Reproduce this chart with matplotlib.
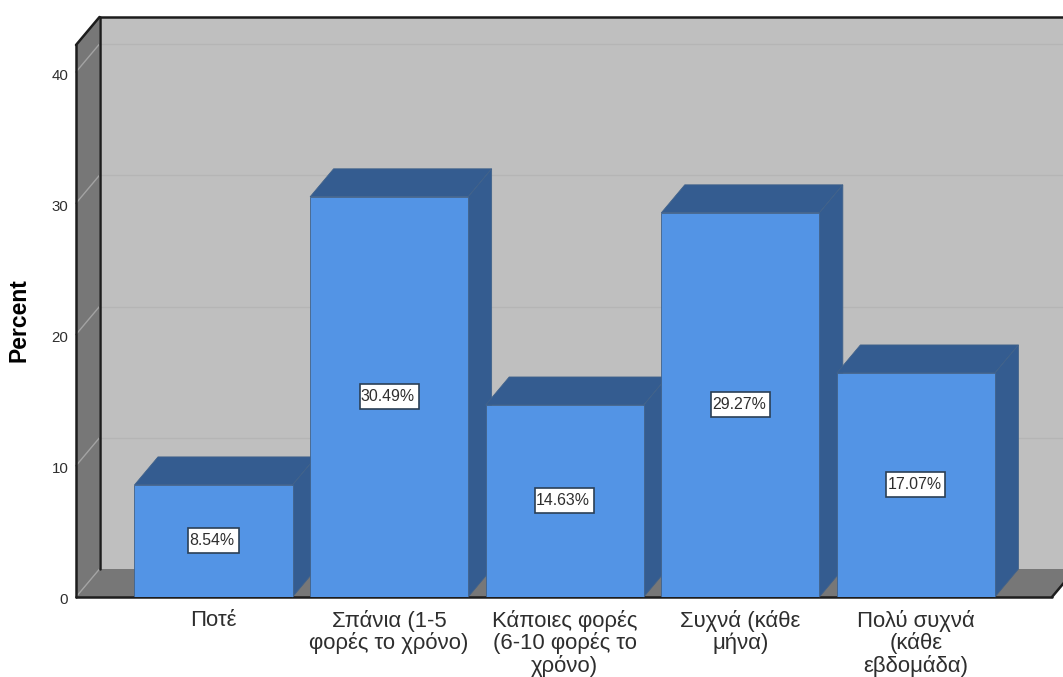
import matplotlib
matplotlib.use('Agg')
import matplotlib.pyplot as plt
from matplotlib.patches import Polygon, Rectangle
from matplotlib.transforms import ScaledTranslation

plt.rcParams['font.family'] = ['Liberation Sans', 'DejaVu Sans']

# Data
categories = ['Ποτέ', 'Σπάνια (1-5\nφορές το χρόνο)', 'Κάποιες φορές\n(6-10 φορές το\nχρόνο)',
              'Συχνά (κάθε\nμήνα)', 'Πολύ συχνά\n(κάθε\nεβδομάδα)']
percents = [8.54, 30.49, 14.63, 29.27, 17.07]
y_ticks = [0, 10, 20, 30, 40]

# Colors
FRONT = '#5394e5'
SHADE = '#345c90'
BAR_EDGE = '#41628a'
WALL = '#bfbfbf'
SIDE_WALL = '#777777'
GRID = '#b5b5b5'
SIDE_GRID = '#a3a3a3'
FRAME = '#1d1d1d'
TEXT = '#2e2e2e'

WIDTH, HEIGHT = 1063, 677
# pixel frame of the front of the plot box
LEFT, RIGHT, TOP, BOTTOM = 76, 1052, 45, 597
PX_PER_CAT = 175.6
PX_PER_PCT = 13.125
BAR_WIDTH = 0.9

fig = plt.figure(figsize=(WIDTH / 100, HEIGHT / 100), dpi=100)
ax = fig.add_axes([LEFT / WIDTH, 1 - BOTTOM / HEIGHT, (RIGHT - LEFT) / WIDTH, (BOTTOM - TOP) / HEIGHT])
ax.patch.set_visible(False)
for spine in ax.spines.values():
    spine.set_visible(False)

xmin = -(213.5 - LEFT) / PX_PER_CAT
xmax = xmin + (RIGHT - LEFT) / PX_PER_CAT
ymax = (BOTTOM - TOP) / PX_PER_PCT
ax.set_xlim(xmin, xmax)
ax.set_ylim(0, ymax)

# oblique depth of the box in data units
dx = 23.5 / PX_PER_CAT
dy = 28 / PX_PER_PCT


def face(points, color, edge='none', lw=0, z=1):
    ax.add_patch(Polygon(points, closed=True, facecolor=color, edgecolor=edge, linewidth=lw,
                         zorder=z, clip_on=False))


# back wall, left wall and floor
face([(xmin + dx, dy), (xmax + dx, dy), (xmax + dx, ymax + dy), (xmin + dx, ymax + dy)], WALL)
face([(xmin, 0), (xmin + dx, dy), (xmin + dx, ymax + dy), (xmin, ymax)], SIDE_WALL)
face([(xmin, 0), (xmax, 0), (xmax + dx, dy), (xmin + dx, dy)], SIDE_WALL)

# grid lines run across the left wall and along the back wall
for t in y_ticks[1:]:
    ax.plot([xmin, xmin + dx], [t, t + dy], color=SIDE_GRID, lw=1, zorder=2, clip_on=False)
    ax.plot([xmin + dx, xmax + dx], [t + dy, t + dy], color=GRID, lw=1, zorder=2, clip_on=False)
ax.plot([xmin, xmin + dx], [0, dy], color=SIDE_GRID, lw=1, zorder=2, clip_on=False)

# box outline
outline = dict(color=FRAME, lw=1.8, zorder=3, clip_on=False, solid_capstyle='round')
ax.plot([xmin, xmin], [0, ymax], **outline)
ax.plot([xmin + dx, xmin + dx], [dy, ymax + dy], **outline)
ax.plot([xmin, xmin + dx], [ymax, ymax + dy], **outline)
ax.plot([xmin + dx, xmax + dx], [ymax + dy, ymax + dy], **outline)
ax.plot([xmin, xmax], [0, 0], **outline)
ax.plot([xmax, xmax + dx], [0, dy], **outline)

renderer = fig.canvas.get_renderer()

# bars, left to right so each one covers the side of the previous
half = BAR_WIDTH / 2
for i, val in enumerate(percents):
    z = 4 + i
    face([(i - half, val), (i + half, val), (i + half + dx, val + dy), (i - half + dx, val + dy)],
         SHADE, edge=BAR_EDGE, lw=0.6, z=z)
    face([(i + half, 0), (i + half + dx, dy), (i + half + dx, val + dy), (i + half, val)],
         SHADE, edge=BAR_EDGE, lw=0.6, z=z)
    ax.bar(i, val, width=BAR_WIDTH, color=FRONT, edgecolor=BAR_EDGE, linewidth=0.6, zorder=z)
    # value label in a white box, text pushed slightly left inside it
    lab = ax.text(i - 1.5 / PX_PER_CAT, val / 2, f'{val:.2f}%', ha='center', va='center', fontsize=11.4,
                  color=TEXT, zorder=21)
    box_w = (lab.get_window_extent(renderer).width + 5) / PX_PER_CAT
    box_h = 25 / PX_PER_PCT
    ax.add_patch(Rectangle((i - box_w / 2, val / 2 - box_h / 2), box_w, box_h, facecolor='white',
                           edgecolor='#2b3f55', linewidth=1.2, zorder=20))

ax.set_xticks(range(len(categories)))
ax.set_xticklabels(categories, fontsize=15.9, color=TEXT, linespacing=1.04)
ax.set_yticks(y_ticks)
ax.set_yticklabels(y_ticks, fontsize=10.8, color=TEXT)
ax.tick_params(axis='both', length=0)
ax.tick_params(axis='x', pad=9)
ax.tick_params(axis='y', pad=5.5)
# tick numbers sit slightly under their grid lines
for lab in ax.get_yticklabels():
    lab.set_transform(lab.get_transform() + ScaledTranslation(0, -2 / 100, fig.dpi_scale_trans))

ax.set_ylabel('Percent', fontsize=16.5, fontweight='bold', color='black', va='center')
ax.yaxis.set_label_coords(19 / WIDTH, 1 - 320 / HEIGHT, transform=fig.transFigure)

plt.savefig('out.png', dpi=100)
